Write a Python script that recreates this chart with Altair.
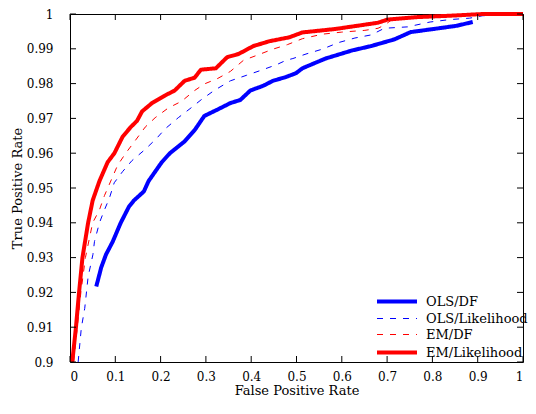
import altair as alt
import pandas as pd

SERIES = ["OLS/DF", "OLS/Likelihood", "EM/DF", "EM/Likelihood"]
COLORS = ["#0000ff", "#0000ff", "#ff0000", "#ff0000"]

XTICKS = [0, 0.1, 0.2, 0.3, 0.4, 0.5, 0.6, 0.7, 0.8, 0.9, 1]
YTICKS = [0.9, 0.91, 0.92, 0.93, 0.94, 0.95, 0.96, 0.97, 0.98, 0.99, 1]

# OLS/DF (blue solid)
ols_df_x = [0.058, 0.069, 0.0795, 0.094, 0.112, 0.130, 0.141, 0.163, 0.1735, 0.2025,
            0.2205, 0.253, 0.275, 0.2965, 0.325, 0.354, 0.376, 0.398, 0.427, 0.448,
            0.477, 0.499, 0.513, 0.564, 0.622, 0.665, 0.716, 0.752, 0.803, 0.853, 0.889]
ols_df_y = [0.9217, 0.9272, 0.9309, 0.9345, 0.940, 0.9446, 0.9464, 0.949, 0.952, 0.9574,
            0.960, 0.9634, 0.9666, 0.9707, 0.9725, 0.9744, 0.9753, 0.978, 0.9794, 0.9808,
            0.9819, 0.983, 0.9844, 0.9872, 0.9895, 0.9908, 0.9927, 0.9948, 0.9957, 0.9966, 0.9977]

# OLS/Likelihood (blue dashed)
ols_lik_x = [0.018, 0.025, 0.0325, 0.040, 0.0506, 0.054, 0.065, 0.076, 0.087, 0.0976,
             0.116, 0.137, 0.166, 0.1915, 0.21, 0.239, 0.267, 0.289, 0.318, 0.354,
             0.390, 0.419, 0.4555, 0.477, 0.492, 0.521, 0.557, 0.593, 0.629, 0.665,
             0.694, 0.745, 0.795, 0.839, 0.882, 0.911, 1.0]
ols_lik_y = [0.900, 0.9098, 0.9154, 0.9245, 0.9309, 0.9346, 0.940, 0.9437, 0.9471, 0.9515,
             0.9547, 0.9579, 0.9611, 0.9643, 0.967, 0.9702, 0.973, 0.9753, 0.978, 0.9808,
             0.9824, 0.9837, 0.9854, 0.9867, 0.9872, 0.9885, 0.9899, 0.9918, 0.9931, 0.994,
             0.9959, 0.9963, 0.9977, 0.9984, 0.9988, 0.9995, 1.0]

# EM/DF (red dashed)
em_df_x = [0.008, 0.016, 0.024, 0.034, 0.050, 0.065, 0.076, 0.090, 0.105, 0.123,
           0.145, 0.166, 0.188, 0.217, 0.246, 0.275, 0.2965, 0.325, 0.354, 0.383,
           0.412, 0.448, 0.480, 0.513, 0.557, 0.600, 0.651, 0.680, 0.694, 0.709,
           0.766, 0.824, 0.88, 1.0]
em_df_y = [0.900, 0.910, 0.920, 0.930, 0.940, 0.9437, 0.9478, 0.952, 0.9565, 0.960,
           0.9638, 0.9675, 0.9702, 0.973, 0.9749, 0.978, 0.9799, 0.9814, 0.9835, 0.9867,
           0.9881, 0.9899, 0.9912, 0.9929, 0.9942, 0.9948, 0.9953, 0.9959, 0.9968, 0.9982,
           0.9989, 0.9993, 0.9998, 1.0]

# EM/Likelihood (red solid)
em_lik_x = [0.005, 0.013, 0.020, 0.0275, 0.040, 0.050, 0.065, 0.083, 0.098, 0.116,
            0.134, 0.148, 0.159, 0.181, 0.21, 0.231, 0.253, 0.275, 0.289, 0.322,
            0.347, 0.372, 0.405, 0.441, 0.484, 0.513, 0.586, 0.644, 0.680, 0.701,
            0.766, 0.839, 0.911, 1.0]
em_lik_y = [0.900, 0.9098, 0.920, 0.930, 0.940, 0.9464, 0.952, 0.9574, 0.960, 0.9647,
            0.9675, 0.9693, 0.972, 0.9744, 0.9766, 0.978, 0.9808, 0.9817, 0.984, 0.9844,
            0.9876, 0.9885, 0.9908, 0.9922, 0.9933, 0.9947, 0.9957, 0.9968, 0.9975, 0.9984,
            0.9991, 0.9995, 1.0, 1.0]

XS = [ols_df_x, ols_lik_x, em_df_x, em_lik_x]
YS = [ols_df_y, ols_lik_y, em_df_y, em_lik_y]

rows = []
for name, xs, ys in zip(SERIES, XS, YS):
    for i, (a, b) in enumerate(zip(xs, ys)):
        rows.append({"series": name, "fpr": a, "tpr": b, "i": i})
df = pd.DataFrame(rows)

W, H = 453, 348
FONT = "DejaVu Serif"
TICK = 6

xscale = alt.Scale(domain=[0, 1], nice=False, zero=False)
yscale = alt.Scale(domain=[0.9, 1], nice=False, zero=False)
xaxis = alt.Axis(values=XTICKS, format="~g", title="False Positive Rate",
                 labelPadding=9, titlePadding=2, labelOverlap=False,
                 labelFontSize=12, titleFontSize=13)
yaxis = alt.Axis(values=YTICKS, format="~g", title="True Positive Rate",
                 labelPadding=17, titlePadding=2, labelOverlap=False,
                 labelFontSize=12, titleFontSize=13)

legend = alt.Legend(orient="none", legendX=338, legendY=281,
                    symbolType="M-15,0H1", symbolSize=25,
                    labelFont=FONT, labelFontSize=13, labelColor="black",
                    labelOffset=5, rowPadding=2, padding=0, title=None)

lines = alt.Chart(df).mark_line(strokeCap="butt", strokeJoin="round").encode(
    x=alt.X("fpr:Q", scale=xscale, axis=xaxis),
    y=alt.Y("tpr:Q", scale=yscale, axis=yaxis),
    color=alt.Color("series:N", scale=alt.Scale(domain=SERIES, range=COLORS),
                    legend=legend),
    strokeDash=alt.StrokeDash("series:N", scale=alt.Scale(
        domain=SERIES, range=[[1, 0], [6, 7], [6, 7], [1, 0]]), legend=legend),
    strokeWidth=alt.StrokeWidth("series:N", scale=alt.Scale(
        type="ordinal", domain=SERIES, range=[4, 1, 1, 4]), legend=legend),
    order="i:Q",
)

xt = pd.DataFrame({"fpr": XTICKS})
yt = pd.DataFrame({"tpr": YTICKS})
tick_b = alt.Chart(xt).mark_rule(color="black", strokeWidth=1).encode(
    x=alt.X("fpr:Q", scale=xscale, axis=xaxis), y=alt.value(H), y2=alt.value(H - TICK))
tick_t = alt.Chart(xt).mark_rule(color="black", strokeWidth=1).encode(
    x=alt.X("fpr:Q", scale=xscale, axis=xaxis), y=alt.value(0), y2=alt.value(TICK))
tick_l = alt.Chart(yt).mark_rule(color="black", strokeWidth=1).encode(
    y=alt.Y("tpr:Q", scale=yscale, axis=yaxis), x=alt.value(0), x2=alt.value(TICK))
tick_r = alt.Chart(yt).mark_rule(color="black", strokeWidth=1).encode(
    y=alt.Y("tpr:Q", scale=yscale, axis=yaxis), x=alt.value(W), x2=alt.value(W - TICK))

chart = alt.layer(lines, tick_b, tick_t, tick_l, tick_r).properties(
    width=W, height=H,
    background="white",
    autosize=alt.AutoSizeParams(type="none"),
    padding={"left": 62, "top": 6, "right": 5, "bottom": 36},
).configure_view(stroke="black", strokeWidth=1).configure_axis(
    domain=False, ticks=False, grid=False,
    labelFont=FONT, labelColor="black",
    titleFont=FONT, titleFontWeight="normal", titleColor="black",
)

chart.save("out.html", embed_options={"renderer": "svg", "actions": False})
